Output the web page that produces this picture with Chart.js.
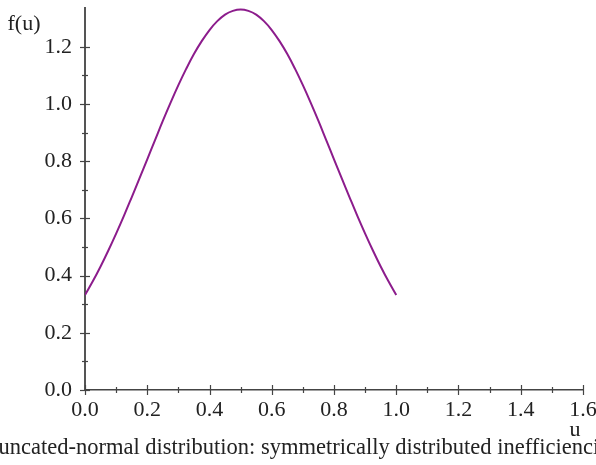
<!DOCTYPE html>
<html>
<head>
<meta charset="utf-8">
<script src="https://cdn.jsdelivr.net/npm/chart.js@4"></script>
<style>
    html, body { margin: 0; padding: 0; background: #fff; }
    #wrap { width: 596px; height: 465px; }
</style>
</head>
<body>
<div id="wrap"><canvas id="density"></canvas></div>
<script>
// truncated-normal density on [0, 1], sampled every 0.025
const uValues = [0, 0.025, 0.05, 0.075, 0.1, 0.125, 0.15, 0.175, 0.2, 0.225,
                 0.25, 0.275, 0.3, 0.325, 0.35, 0.375, 0.4, 0.425, 0.45, 0.475,
                 0.5, 0.525, 0.55, 0.575, 0.6, 0.625, 0.65, 0.675, 0.7, 0.725,
                 0.75, 0.775, 0.8, 0.825, 0.85, 0.875, 0.9, 0.925, 0.95, 0.975, 1.0];
const fValues = [0.332, 0.380, 0.432, 0.488, 0.547, 0.609, 0.674, 0.740, 0.807, 0.874,
                 0.941, 1.005, 1.066, 1.123, 1.175, 1.220, 1.259, 1.290, 1.313, 1.326,
                 1.331, 1.326, 1.313, 1.290, 1.259, 1.220, 1.175, 1.123, 1.066, 1.005,
                 0.941, 0.874, 0.807, 0.740, 0.674, 0.609, 0.547, 0.488, 0.432, 0.380, 0.332];

const xLabel = "u";
const yLabel = "f(u)";
const caption = "Truncated-normal distribution: symmetrically distributed inefficiencies";

const serif = "'Liberation Serif', serif";
const textColor = "#222";

const isMajor = v => Math.abs(v * 5 - Math.round(v * 5)) < 1e-6;
const isStep = v => Math.abs(v * 10 - Math.round(v * 10)) < 1e-6;

// maple-style crossing tick marks plus the axis labels and caption
const axisDecor = {
    id: "axisDecor",
    afterDraw(chart) {
        const ctx = chart.ctx;
        const xs = chart.scales.x;
        const ys = chart.scales.y;
        const x0 = xs.getPixelForValue(0);
        const y0 = ys.getPixelForValue(0);
        ctx.save();
        ctx.strokeStyle = "#444";
        ctx.lineWidth = 1.2;
        ys.ticks.forEach(t => {
            if (!isStep(t.value)) return;
            const py = Math.round(ys.getPixelForValue(t.value)) + 0.5;
            const len = isMajor(t.value) ? 5 : 3;
            ctx.beginPath();
            ctx.moveTo(x0 - len, py);
            ctx.lineTo(x0 + len, py);
            ctx.stroke();
        });
        xs.ticks.forEach(t => {
            if (!isStep(t.value)) return;
            const px = Math.round(xs.getPixelForValue(t.value)) + 0.5;
            const len = isMajor(t.value) ? 5 : 3;
            ctx.beginPath();
            ctx.moveTo(px, y0 - len);
            ctx.lineTo(px, y0 + len);
            ctx.stroke();
        });

        ctx.fillStyle = textColor;
        ctx.font = "22px " + serif;
        ctx.textAlign = "center";
        ctx.textBaseline = "middle";
        ctx.fillText(yLabel, 24, 24);
        ctx.fillText(xLabel, xs.right - 8, 430);
        ctx.font = "22.5px " + serif;
        ctx.fillText(caption, chart.width / 2, 448);
        ctx.restore();
    }
};

const canvas = document.getElementById("density");
const chart = new Chart(canvas, {
    type: "line",
    data: {
        datasets: [{
            data: uValues.map((u, i) => ({ x: u, y: fValues[i] })),
            borderColor: "rgb(140, 28, 140)",
            borderWidth: 2,
            pointRadius: 0,
            fill: false,
            tension: 0.4
        }]
    },
    options: {
        responsive: true,
        maintainAspectRatio: false,
        animation: false,
        layout: {
            padding: { left: 0, right: 13, top: 8, bottom: 0 }
        },
        plugins: {
            legend: { display: false },
            tooltip: { enabled: false }
        },
        scales: {
            x: {
                type: "linear",
                min: 0,
                max: 1.6,
                grid: { display: false, drawTicks: false },
                border: { display: true, color: "#444", width: 1.5 },
                ticks: {
                    stepSize: 0.1,
                    padding: 7,
                    autoSkip: false,
                    maxRotation: 0,
                    color: textColor,
                    font: { family: serif, size: 22 },
                    callback: v => isMajor(v) ? v.toFixed(1) : ""
                },
                afterFit: scale => {
                    scale.height = 75;
                    scale.paddingLeft = 0;
                    scale.paddingRight = 0;
                }
            },
            y: {
                min: 0,
                max: 1.336,
                grid: { display: false, drawTicks: false },
                border: { display: true, color: "#555", width: 2 },
                ticks: {
                    stepSize: 0.1,
                    padding: 13,
                    autoSkip: false,
                    color: textColor,
                    font: { family: serif, size: 22 },
                    callback: v => isMajor(v) ? v.toFixed(1) : ""
                },
                afterFit: scale => {
                    scale.width = 85;
                    scale.paddingTop = 0;
                    scale.paddingBottom = 0;
                }
            }
        }
    },
    plugins: [axisDecor]
});
</script>
</body>
</html>
